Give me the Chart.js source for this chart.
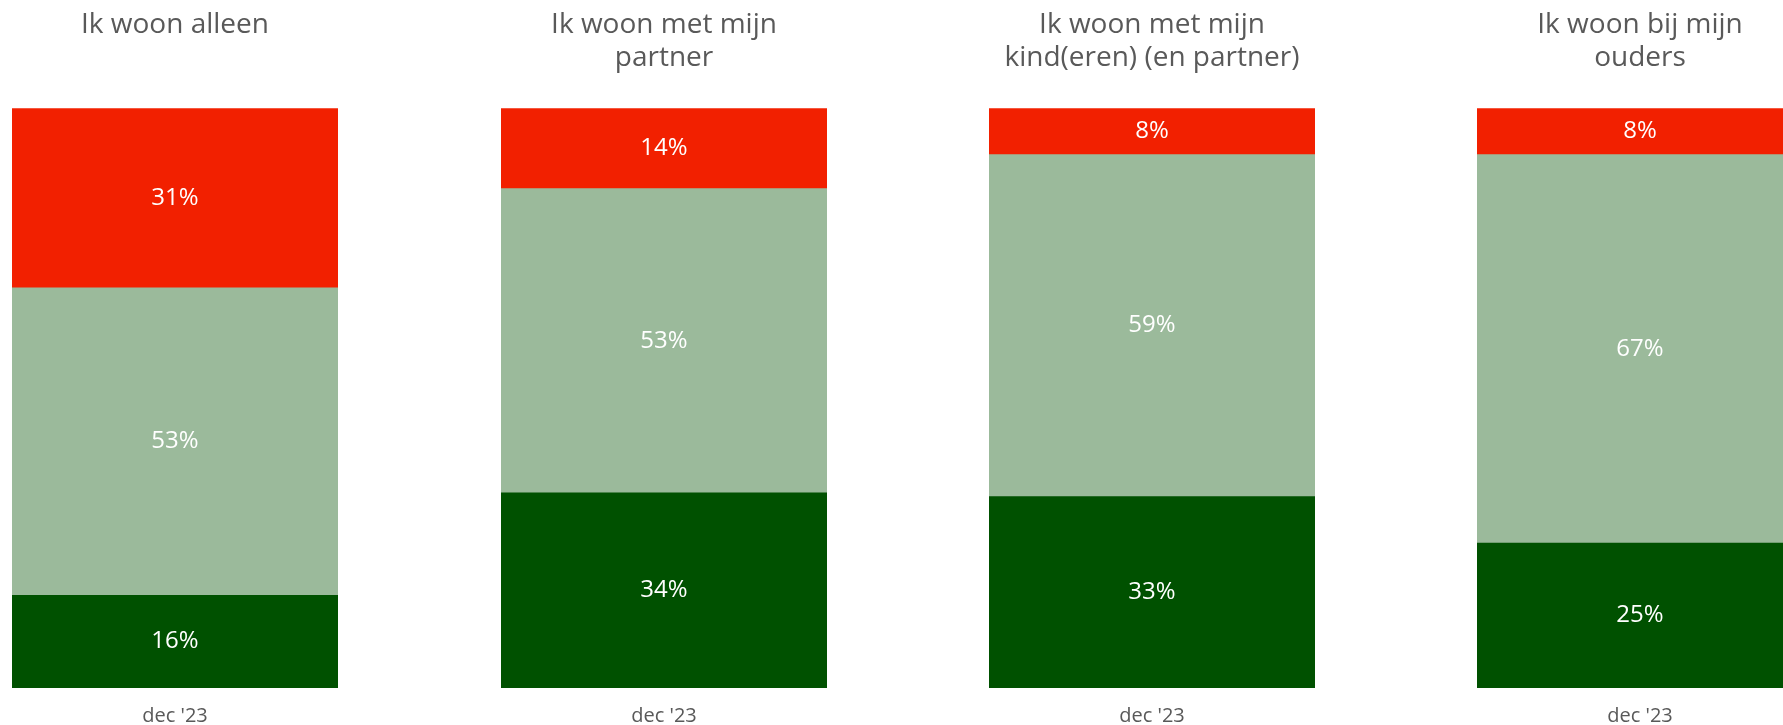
<!DOCTYPE html>
<html>
<head>
<meta charset="utf-8">
<script src="https://cdn.jsdelivr.net/npm/chart.js@4/dist/chart.umd.min.js"></script>
<style>
  html, body { margin: 0; padding: 0; background: #fff; }
  body { width: 1783px; height: 725px; overflow: hidden; position: relative; }
  .panel { position: absolute; top: 0; width: 326px; height: 744px; }
</style>
</head>
<body>
<div class="panel" style="left:12px"><canvas id="box1"></canvas></div>
<div class="panel" style="left:501px"><canvas id="box2"></canvas></div>
<div class="panel" style="left:989px"><canvas id="box3"></canvas></div>
<div class="panel" style="left:1477px"><canvas id="box4"></canvas></div>
<script>
// ------------------------- DATA ----------------------------------------------

var titles = [
  ["Ik woon alleen", ""],
  ["Ik woon met mijn", "partner"],
  ["Ik woon met mijn", "kind(eren) (en partner)"],
  ["Ik woon bij mijn", "ouders"]
];
var periods = ["dec '23"];

// one value per panel, bottom to top
var darkValues = [16, 34, 33, 25];
var lightValues = [53, 53, 59, 67];
var redValues = [31, 14, 8, 8];

var FONT = "'Open Sans', 'DejaVu Sans', sans-serif";

// draws the white % in the middle of every segment
var valueLabels = {
  id: 'valueLabels',
  afterDatasetsDraw: function(chart) {
    var ctx = chart.ctx;
    ctx.save();
    ctx.fillStyle = "#ffffff";
    ctx.font = "24px " + FONT;
    ctx.textAlign = "center";
    ctx.textBaseline = "middle";
    chart.data.datasets.forEach(function(ds, i) {
      chart.getDatasetMeta(i).data.forEach(function(bar, j) {
        ctx.fillText(ds.data[j] + "%", bar.x, (bar.y + bar.base) / 2);
      });
    });
    ctx.restore();
  }
};

// ------------------------- CHART RELATED -------------------------------------

function makeChart(selector, idx) {
  var total = darkValues[idx] + lightValues[idx] + redValues[idx];
  new Chart(document.getElementById(selector), {
    type: 'bar',
    data: {
      labels: periods,
      datasets: [
        { data: [darkValues[idx]], backgroundColor: "#005100" },
        { data: [lightValues[idx]], backgroundColor: "#9bba9b" },
        { data: [redValues[idx]], backgroundColor: "#f22000" }
      ]
    },
    options: {
      responsive: true,
      maintainAspectRatio: false,
      animation: false,
      datasets: { bar: { barPercentage: 1, categoryPercentage: 1, borderWidth: 0 } },
      layout: { padding: 0 },
      plugins: {
        legend: { display: false },
        tooltip: { enabled: false },
        title: {
          display: true,
          text: titles[idx],
          color: "#595959",
          font: { family: FONT, size: 28, weight: 'normal', lineHeight: 1.2 },
          padding: { top: 8, bottom: 33 }
        }
      },
      scales: {
        x: {
          stacked: true,
          grid: { display: false, drawTicks: false },
          border: { display: false },
          ticks: { color: "#595959", padding: 18, font: { family: FONT, size: 20, lineHeight: 1 } }
        },
        y: {
          stacked: true,
          display: false,
          min: 0,
          max: total
        }
      }
    },
    plugins: [valueLabels]
  });
} // -- func(makeChart)

makeChart('box1', 0);
makeChart('box2', 1);
makeChart('box3', 2);
makeChart('box4', 3);
</script>
</body>
</html>
